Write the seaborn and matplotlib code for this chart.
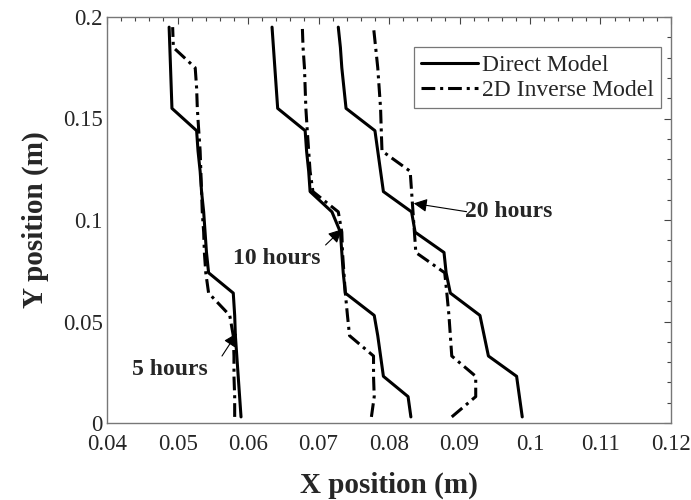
import matplotlib
matplotlib.use("Agg")
import matplotlib.pyplot as plt
import seaborn as sns
import pandas as pd
from matplotlib.ticker import MultipleLocator, FuncFormatter
from matplotlib.lines import Line2D

# ---------------- data ----------------
y_nodes = [0.003, 0.013, 0.023, 0.033, 0.043, 0.053, 0.064, 0.074, 0.084, 0.094,
           0.104, 0.114, 0.124, 0.134, 0.144, 0.155, 0.165, 0.175, 0.185, 0.195]

direct_5h = [0.0590, 0.0588, 0.0586, 0.0584, 0.0582, 0.0581, 0.0579, 0.0544, 0.0541, 0.0539,
             0.0537, 0.0534, 0.0532, 0.0529, 0.0527, 0.0492, 0.0491, 0.0490, 0.0489, 0.0488]
inverse_5h = [0.0581, 0.0581, 0.0580, 0.0580, 0.0579, 0.0574, 0.0544, 0.0540, 0.0538, 0.0537,
              0.0535, 0.0534, 0.0533, 0.0532, 0.0530, 0.0528, 0.0527, 0.0525, 0.0494, 0.0493]

direct_10h = [0.0831, 0.0827, 0.0792, 0.0788, 0.0784, 0.0779, 0.0738, 0.0735, 0.0733, 0.0731,
              0.0719, 0.0688, 0.0686, 0.0683, 0.0681, 0.0642, 0.0640, 0.0638, 0.0636, 0.0634]
inverse_10h = [0.0775, 0.0779, 0.0778, 0.0778, 0.0744, 0.0741, 0.0738, 0.0736, 0.0734, 0.0733,
               0.0728, 0.0692, 0.0688, 0.0686, 0.0684, 0.0682, 0.0681, 0.0680, 0.0678, 0.0677]

direct_20h = [0.0989, 0.0985, 0.0981, 0.0941, 0.0935, 0.0929, 0.0887, 0.0881, 0.0878, 0.0837,
              0.0832, 0.0792, 0.0788, 0.0784, 0.0780, 0.0739, 0.0736, 0.0733, 0.0731, 0.0728]
inverse_20h = [0.0889, 0.0923, 0.0923, 0.0889, 0.0887, 0.0885, 0.0882, 0.0879, 0.0838, 0.0836,
               0.0834, 0.0832, 0.0830, 0.0790, 0.0789, 0.0788, 0.0786, 0.0784, 0.0781, 0.0778]

legend_labels = ["Direct Model", "2D Inverse Model"]
annot_labels = ["5 hours", "10 hours", "20 hours"]
annot_tips = [(0.0584, 0.0442), (0.0733, 0.0954), (0.0835, 0.1082)]
annot_texts = [(0.0489, 0.0262), (0.0641, 0.0811), (0.0970, 0.1040)]
annot_tails = [(0.0563, 0.0330), (0.0710, 0.0877), (0.0910, 0.1041)]

x_ticks = [0.04, 0.05, 0.06, 0.07, 0.08, 0.09, 0.10, 0.11, 0.12]
y_ticks = [0, 0.05, 0.10, 0.15, 0.20]

# ---------------- style ----------------
sns.set_theme(style="white")
plt.rcParams['font.family'] = ['Liberation Serif', 'DejaVu Serif']

fig = plt.figure(figsize=(6.91, 5.0), dpi=100)
ax = fig.add_axes([0.155, 0.154, 0.816, 0.812])

dashdot = (0, (4.5, 1.6, 1.0, 1.6))
series = [(direct_5h, 0), (inverse_5h, 1), (direct_10h, 0), (inverse_10h, 1),
          (direct_20h, 0), (inverse_20h, 1)]
for xs, kind in series:
    df = pd.DataFrame({"x": xs, "y": y_nodes})
    sns.lineplot(data=df, x="x", y="y", sort=False, estimator=None, ax=ax,
                 color="black", lw=2.2,
                 linestyle="-" if kind == 0 else dashdot, legend=False)

handles = [Line2D([], [], color="black", lw=2.2, linestyle="-"),
           Line2D([], [], color="black", lw=2.2, linestyle=dashdot)]
leg = ax.legend(handles, legend_labels, loc="upper right", bbox_to_anchor=(0.983, 0.925),
                fontsize=17, frameon=True, fancybox=False, edgecolor="#555555",
                handlelength=2.4, handletextpad=0.2, borderpad=0.3, labelspacing=0.15,
                borderaxespad=0.0)
leg.get_frame().set_linewidth(0.9)

for lab, tip, txt, tail in zip(annot_labels, annot_tips, annot_texts, annot_tails):
    ax.annotate("", xy=tip, xytext=tail,
                arrowprops=dict(arrowstyle="-|>", color="black", lw=0.8,
                                mutation_scale=20, shrinkA=0, shrinkB=0))
    ax.text(txt[0], txt[1], lab, ha="center", va="center", fontsize=17,
            fontweight="bold")

ax.set_xlim(0.04, 0.12)
ax.set_ylim(0, 0.2)
ax.set_xticks(x_ticks)
ax.set_yticks(y_ticks)
fmt = FuncFormatter(lambda v, p: f"{v:g}")
ax.xaxis.set_major_formatter(fmt)
ax.yaxis.set_major_formatter(fmt)
ax.xaxis.set_minor_locator(MultipleLocator(0.002))
ax.yaxis.set_minor_locator(MultipleLocator(0.01))
ax.tick_params(which="both", direction="in", top=True, right=True, color="#444444",
               labelsize=16.5)
ax.tick_params(axis="x", pad=8)
ax.tick_params(axis="y", pad=3)
ax.tick_params(which="major", length=5, width=0.8)
ax.tick_params(which="minor", length=3, width=0.8)
for s in ax.spines.values():
    s.set_color("#777777")
    s.set_linewidth(1.0)

ax.set_xlabel("X position (m)", fontsize=21, fontweight="bold", labelpad=12)
ax.set_ylabel("Y position (m)", fontsize=21, fontweight="bold", labelpad=10)

fig.savefig("out.png", dpi=100)
